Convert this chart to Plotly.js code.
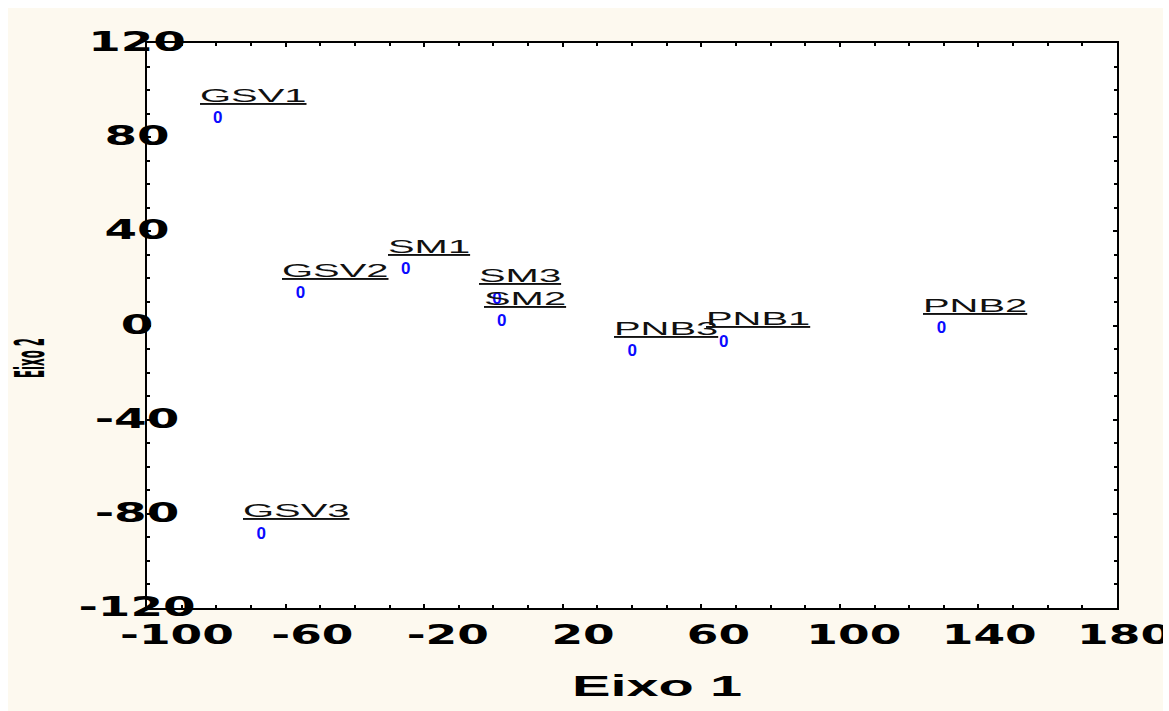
<!DOCTYPE html>
<html><head><meta charset="utf-8">
<script src="https://cdn.plot.ly/plotly-3.0.1.min.js"></script>
<style>
html,body{margin:0;padding:0;background:#ffffff;width:1169px;height:711px;overflow:hidden;}
#chart{position:absolute;left:8px;top:8px;width:1155px;height:703px;}
</style></head><body><div id="chart"></div>
<script>
// ---- data ----
const labels = ['GSV1','GSV2','GSV3','SM1','SM2','SM3','PNB1','PNB2','PNB3'];
const eixo1  = [-79.6, -55.7, -67.0, -25.3, 2.4, 1.0, 66.5, 129.3, 40.1];
const eixo2  = [ 87.8,  13.3, -88.7,  23.7, 1.5, 11.1, -7.2, -1.3, -11.2];
const markerSymbol = '0';
const xTickVals = [-100,-60,-20,20,60,100,140,180];
const xTickText = ['-100','-60','-20','20','60','100','140','180'];
const yTickVals = [-120,-80,-40,0,40,80,120];
const yTickText = ['-120','-80','-40','0','40','80','120'];
const xTitle = 'Eixo 1';
const yTitle = 'Eixo 2';

const tickFont = {family:'DejaVu Sans', size:26, weight:'bold', color:'#000'};

const trace = {
  type:'scatter', mode:'text',
  x: eixo1, y: eixo2,
  text: labels.map(() => markerSymbol),
  textposition:'middle center',
  textfont:{family:'Liberation Sans', size:17, weight:'bold', color:'#0a0aff'},
  hoverinfo:'skip', showlegend:false, cliponaxis:false
};

const annotations = labels.map((l,i) => ({
  x: eixo1[i], y: eixo2[i], xref:'x', yref:'y',
  text:'<u>'+l+'</u>', showarrow:false,
  xanchor:'left', yanchor:'bottom', align:'left',
  xshift:-20, yshift:11,
  font:{family:'Liberation Sans', size:19, color:'#111'}
}));

const axisCommon = {
  showline:true, linecolor:'#000', linewidth:2, mirror:'ticks',
  ticks:'inside', ticklen:4, tickwidth:2, tickcolor:'#000',
  showgrid:false, zeroline:false, fixedrange:true,
  tickfont: tickFont, tickmode:'array'
};

const layout = {
  width:1155, height:703,
  paper_bgcolor:'#fdf9ef', plot_bgcolor:'#ffffff',
  margin:{l:138.5, r:45.5, t:34.5, b:103, pad:0},
  showlegend:false,
  xaxis: Object.assign({}, axisCommon, {
    range:[-100,180], tickvals:xTickVals, ticktext:xTickText,
    minor:{tickmode:'linear', tick0:-100, dtick:10, ticks:'inside', ticklen:3, tickwidth:2, tickcolor:'#000', showgrid:false},
    title:{text:xTitle, font:{family:'Liberation Sans', size:30, weight:'bold', color:'#000'}}
  }),
  yaxis: Object.assign({}, axisCommon, {
    range:[-120,120], tickvals:yTickVals, ticktext:yTickText,
    minor:{tickmode:'linear', tick0:-120, dtick:10, ticks:'inside', ticklen:3, tickwidth:2, tickcolor:'#000', showgrid:false},
    title:{text:yTitle, standoff:2, font:{family:'DejaVu Sans', size:40, weight:'bold', color:'#000'}}
  }),
  annotations: annotations
};

function stretch(el, factor, len){
  const w = el.getComputedTextLength();
  const L = len != null ? len : w*factor;
  el.setAttribute('textLength', L.toFixed(1));
  el.setAttribute('lengthAdjust','spacingAndGlyphs');
}
function moveBy(el, dx, dy){
  const t = el.getAttribute('transform') || '';
  el.setAttribute('transform', 'translate(' + dx.toFixed(2) + ',' + dy.toFixed(2) + ') ' + t);
}
function center(el){
  const r = el.getBoundingClientRect();
  return {x:r.left + r.width/2, y:r.top + r.height/2, left:r.left, top:r.top, w:r.width, h:r.height};
}

function fix(){
  const gd = document.getElementById('chart');
  // x tick labels (reference labels drift slightly right of their ticks)
  gd.querySelectorAll('.xtick text').forEach((el, i) => {
    const c0 = center(el);
    stretch(el, 1.75);
    const c1 = center(el);
    const drift = 30 - 0.08 * (xTickVals[i] - xTickVals[0]);
    moveBy(el, (c0.x + drift) - c1.x, 635 - c1.y);
  });
  // y tick labels (centred on the left axis line)
  gd.querySelectorAll('.ytick text').forEach(el => {
    const c0 = center(el);
    stretch(el, 1.8);
    const c1 = center(el);
    moveBy(el, 137 - c1.x, (c0.y - 1) - c1.y);
  });
  // point labels, widened like the reference
  gd.querySelectorAll('.annotation-text-g text').forEach(el => {
    const c0 = center(el);
    stretch(el, 2.1);
    const c1 = center(el);
    moveBy(el, c0.left - c1.left, 0);
  });
  // titles
  const xt = gd.querySelector('.xtitle');
  if (xt){ stretch(xt, null, 170); const c = center(xt); moveBy(xt, 657 - c.x, 685 - c.y); }
  const yt = gd.querySelector('.ytitle');
  if (yt){ stretch(yt, null, 40); const c = center(yt); moveBy(yt, 30 - c.x, 358 - c.y); }
}

Plotly.newPlot('chart', [trace], layout, {staticPlot:true, displayModeBar:false}).then(fix);
</script></body></html>
